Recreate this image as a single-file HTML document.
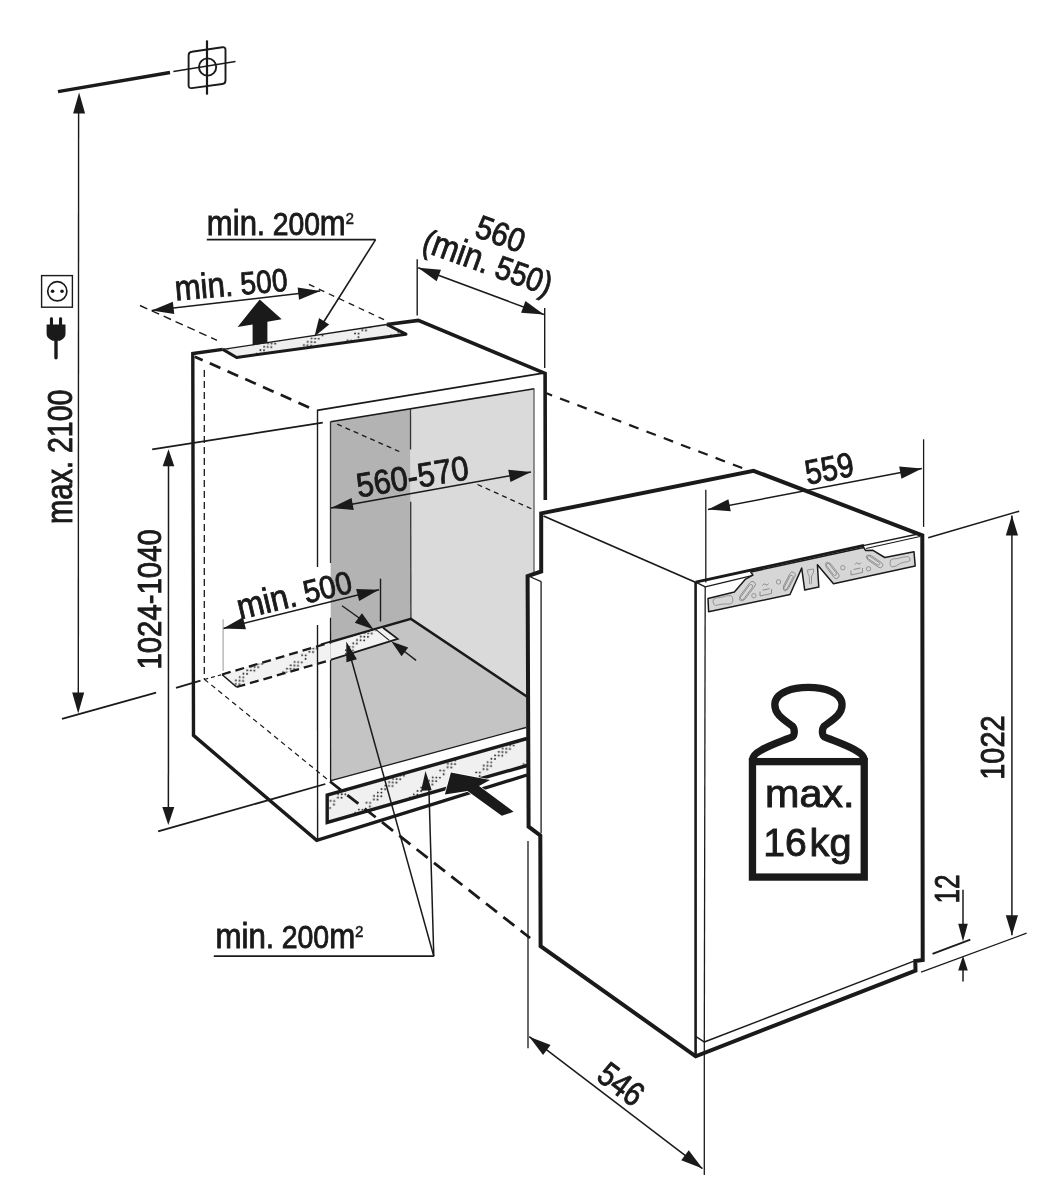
<!DOCTYPE html>
<html><head><meta charset="utf-8"><style>
html,body{margin:0;padding:0;background:#fff;}
body{width:1047px;height:1200px;overflow:hidden;}
svg{display:block;}
text{font-family:"Liberation Sans",sans-serif;}
svg{will-change:transform;}
</style></head><body>
<svg width="1047" height="1200" viewBox="0 0 1047 1200">
<defs><pattern id="dots" patternUnits="userSpaceOnUse" width="36" height="36" patternTransform="rotate(3)"><g fill="#222"><circle cx="1.2" cy="1.2" r="0.95"/><circle cx="1.2" cy="4.8" r="0.95"/><circle cx="1.2" cy="8.4" r="0.95"/><circle cx="4.8" cy="1.2" r="0.95"/><circle cx="4.8" cy="4.8" r="0.95"/><circle cx="4.8" cy="33.6" r="0.95"/><circle cx="8.4" cy="1.2" r="0.95"/><circle cx="8.4" cy="33.6" r="0.95"/><circle cx="12" cy="26.4" r="0.95"/><circle cx="12" cy="33.6" r="0.95"/><circle cx="15.6" cy="26.4" r="0.95"/><circle cx="15.6" cy="30" r="0.95"/><circle cx="19.2" cy="19.2" r="0.95"/><circle cx="19.2" cy="22.8" r="0.95"/><circle cx="22.8" cy="15.6" r="0.95"/><circle cx="22.8" cy="19.2" r="0.95"/><circle cx="22.8" cy="22.8" r="0.95"/><circle cx="26.4" cy="12" r="0.95"/><circle cx="26.4" cy="15.6" r="0.95"/><circle cx="26.4" cy="19.2" r="0.95"/><circle cx="30" cy="8.4" r="0.95"/><circle cx="30" cy="12" r="0.95"/><circle cx="33.6" cy="4.8" r="0.95"/><circle cx="33.6" cy="8.4" r="0.95"/></g></pattern></defs>
<rect width="1047" height="1200" fill="#fff"/>
<line x1="58" y1="91.6" x2="170" y2="72.5" stroke="#1a1a1a" stroke-width="3.4" stroke-linecap="butt"/>
<line x1="173.4" y1="71.5" x2="235.5" y2="61.5" stroke="#1a1a1a" stroke-width="1.4" stroke-linecap="butt"/>
<path d="M188.6,55.3 L188.6,85.3 Q188.6,88.5 191.8,88.1 L222.3,84 Q225.5,83.6 225.5,80.4 L225.5,50 Q225.5,46.8 222.3,47.2 L191.8,51.7 Q188.6,52.1 188.6,55.3 Z" fill="none" stroke="#1a1a1a" stroke-width="1.9"/>
<line x1="207" y1="40.4" x2="207" y2="94.6" stroke="#1a1a1a" stroke-width="2.2" stroke-linecap="butt"/>
<circle cx="207.6" cy="67" r="8.6" fill="none" stroke="#1a1a1a" stroke-width="1.9"/>
<line x1="78.6" y1="108" x2="78.3" y2="700" stroke="#1a1a1a" stroke-width="1.4" stroke-linecap="butt"/>
<polygon points="79.1,92.6 85.1,113.6 73.1,113.6" fill="#1a1a1a"/>
<polygon points="78.2,713.6 72.2,692.6 84.2,692.6" fill="#1a1a1a"/>
<line x1="62" y1="718.8" x2="156.1" y2="692.6" stroke="#1a1a1a" stroke-width="1.8" stroke-linecap="butt"/>
<line x1="176" y1="687.8" x2="200.5" y2="680.7" stroke="#1a1a1a" stroke-width="1.8" stroke-linecap="butt"/>
<text x="71.8" y="524" font-size="35.5" text-anchor="start" textLength="134.5" lengthAdjust="spacingAndGlyphs" transform="rotate(-90 71.8 524)" fill="#1a1a1a" stroke="#1a1a1a" stroke-width="0.9"><tspan font-size="36.21">max</tspan>. 2100</text>
<rect x="41.6" y="275.6" width="30.8" height="31.6" fill="none" stroke="#1a1a1a" stroke-width="1.4"/>
<circle cx="57.3" cy="291.3" r="9.6" fill="none" stroke="#1a1a1a" stroke-width="1.7"/>
<circle cx="52.6" cy="291.3" r="1.8" fill="#1a1a1a"/><circle cx="62" cy="291.3" r="1.8" fill="#1a1a1a"/>
<rect x="49.9" y="317.3" width="3.1" height="9" rx="1.4" fill="#1a1a1a"/><rect x="59" y="317.3" width="3.1" height="9" rx="1.4" fill="#1a1a1a"/>
<path d="M46.6,324.5 L65.5,324.5 L65.5,334 Q65.5,338 60,340.8 L52.5,340.8 Q46.6,338 46.6,334 Z" fill="#1a1a1a"/>
<line x1="56" y1="338" x2="56" y2="357.8" stroke="#1a1a1a" stroke-width="3.4" stroke-linecap="round"/>
<line x1="168.5" y1="462" x2="168.4" y2="810" stroke="#1a1a1a" stroke-width="1.5" stroke-linecap="butt"/>
<polygon points="168.5,449.2 174.3,466.2 162.7,466.2" fill="#1a1a1a"/>
<polygon points="168.3,825.1 162.3,807.1 174.3,807.1" fill="#1a1a1a"/>
<line x1="152.2" y1="449.4" x2="322.8" y2="422.6" stroke="#1a1a1a" stroke-width="1.6" stroke-linecap="butt"/>
<line x1="158.1" y1="831.4" x2="325.3" y2="784" stroke="#1a1a1a" stroke-width="1.8" stroke-linecap="butt"/>
<polygon points="330.5,421.7 410.5,408.7 410.9,618.9 330.7,642.4" fill="#b3b3b3"/>
<polygon points="410.5,408.7 534.3,388.7 534.3,702 410.9,618.9" fill="#dadada"/>
<polygon points="330.7,642.4 410.9,618.9 534.3,702 534.3,725.3 331,780.7" fill="#c4c4c4"/>
<line x1="330.5" y1="421.7" x2="534.3" y2="388.7" stroke="#1a1a1a" stroke-width="1.6" stroke-linecap="butt"/>
<line x1="330.5" y1="421.7" x2="330.5" y2="563" stroke="#333" stroke-width="1.3" stroke-linecap="butt"/>
<line x1="330.5" y1="617.8" x2="330.6" y2="781" stroke="#1a1a1a" stroke-width="1.3" stroke-linecap="butt"/>
<line x1="410.5" y1="408.7" x2="410.55" y2="449.5" stroke="#333" stroke-width="1.3" stroke-linecap="butt"/>
<line x1="410.7" y1="501.7" x2="410.9" y2="618.9" stroke="#333" stroke-width="1.3" stroke-linecap="butt"/>
<polyline points="321,644.6 410.9,618.9 534.3,701.6" fill="none" stroke="#1a1a1a" stroke-width="2.4" stroke-linejoin="miter"/>
<line x1="331" y1="780.7" x2="526.1" y2="727.5" stroke="#1a1a1a" stroke-width="1.3" stroke-linecap="butt"/>
<line x1="534" y1="389" x2="534" y2="701" stroke="#444" stroke-width="1.1" stroke-linecap="butt"/>
<line x1="337.2" y1="424.2" x2="399.3" y2="451.5" stroke="#1a1a1a" stroke-width="1.3" stroke-dasharray="5,4" stroke-linecap="butt"/>
<line x1="477.5" y1="484.5" x2="534" y2="510" stroke="#1a1a1a" stroke-width="1.3" stroke-dasharray="5,4" stroke-linecap="butt"/>
<polygon points="330.5,643.7 383,627.8 397.7,638.9 330.5,659.9" fill="#f2f2f2"/>
<polygon points="345,639 378,629.4 390,640 345,654" fill="url(#dots)"/>
<polyline points="383,627.8 397.7,638.9 330.5,659.9" fill="none" stroke="#1a1a1a" stroke-width="1.8" stroke-linejoin="miter"/>
<line x1="375.7" y1="629.4" x2="389.3" y2="640.4" stroke="#1a1a1a" stroke-width="1.1" stroke-linecap="butt"/>
<polygon points="222,674.5 330.7,642.4 330.7,660 236.5,687" fill="#f2f2f2"/>
<polygon points="222,674.5 330.7,642.4 330.7,660 236.5,687" fill="url(#dots)"/>
<line x1="222" y1="674.5" x2="330.7" y2="642.4" stroke="#1a1a1a" stroke-width="2.3" stroke-dasharray="9,5" stroke-linecap="butt"/>
<line x1="236.5" y1="687" x2="330.7" y2="660" stroke="#1a1a1a" stroke-width="2.3" stroke-dasharray="9,5" stroke-linecap="butt"/>
<line x1="222" y1="674.5" x2="236.5" y2="687" stroke="#1a1a1a" stroke-width="1.6" stroke-linecap="butt"/>
<line x1="204.3" y1="679.5" x2="221" y2="674.8" stroke="#1a1a1a" stroke-width="1.2" stroke-dasharray="4,3" stroke-linecap="butt"/>
<line x1="204.3" y1="370" x2="204.3" y2="679.4" stroke="#1a1a1a" stroke-width="1.3" stroke-dasharray="7,4" stroke-linecap="butt"/>
<line x1="204.3" y1="679.2" x2="330" y2="781.5" stroke="#1a1a1a" stroke-width="1.2" stroke-dasharray="5,4" stroke-linecap="butt"/>
<line x1="194.8" y1="356.7" x2="316" y2="410.5" stroke="#1a1a1a" stroke-width="2.7" stroke-dasharray="11.6,7.8" stroke-dashoffset="3"/>
<line x1="546.5" y1="393.3" x2="750" y2="471" stroke="#1a1a1a" stroke-width="2.2" stroke-dasharray="10,8.5" stroke-dashoffset="4"/>
<line x1="317" y1="410.3" x2="544.7" y2="372.9" stroke="#1a1a1a" stroke-width="1.8" stroke-linecap="butt"/>
<line x1="317.5" y1="410" x2="317.5" y2="567" stroke="#1a1a1a" stroke-width="1.4" stroke-linecap="butt"/>
<line x1="317.5" y1="625" x2="317.6" y2="839" stroke="#1a1a1a" stroke-width="1.4" stroke-linecap="butt"/>
<polygon points="222.8,349.4 386.8,324.5 407,334.2 236.6,357.5" fill="#efefef"/>
<polygon points="222.8,349.4 386.8,324.5 407,334.2 236.6,357.5" fill="url(#dots)"/>
<line x1="222.8" y1="349.4" x2="386.8" y2="324.5" stroke="#1a1a1a" stroke-width="1.3" stroke-linecap="butt"/>
<polyline points="222.8,349.4 236.6,357.5 406,334.2 386.8,324.5" fill="none" stroke="#1a1a1a" stroke-width="3.0" stroke-linejoin="round"/>
<polyline points="222.8,349.4 192.8,353.6 193.5,735.4 316.7,840.4 527,775" fill="none" stroke="#1a1a1a" stroke-width="3.4" stroke-linejoin="miter"/>
<polyline points="386.8,324.5 418.3,320.4 545.1,373.4 545.3,500.1" fill="none" stroke="#1a1a1a" stroke-width="3.6" stroke-linejoin="miter"/>
<polygon points="327.2,795 527,738.5 527,765.5 327.2,822.5" fill="#f0f0f0"/>
<polygon points="327.2,795 527,738.5 527,765.5 327.2,822.5" fill="url(#dots)"/>
<polyline points="527,738.5 327.2,795 327.2,822.5 527,765.5" fill="none" stroke="#1a1a1a" stroke-width="3.4" stroke-linejoin="miter"/>
<line x1="330" y1="781.5" x2="530.1" y2="938" stroke="#1a1a1a" stroke-width="2.8" stroke-dasharray="14,8" stroke-linecap="butt"/>
<polygon points="541.2,513.4 753.6,470.8 922.3,535.3 922.7,960.1 915.3,961.1 915.5,970.6 695.7,1056.3 540.6,946.2 540.3,835.5 528.6,826.7 527.6,576.1 541.2,571.5" fill="#fff" stroke="#1a1a1a" stroke-width="4.0" stroke-linejoin="miter"/>
<line x1="530.6" y1="577" x2="541.2" y2="581.6" stroke="#1a1a1a" stroke-width="1.2" stroke-linecap="butt"/>
<line x1="541.1" y1="581.6" x2="541.1" y2="833.3" stroke="#1a1a1a" stroke-width="1.3" stroke-linecap="butt"/>
<line x1="543.5" y1="516" x2="696" y2="582.5" stroke="#1a1a1a" stroke-width="1.8" stroke-linecap="butt"/>
<line x1="695.6" y1="582.1" x2="695.6" y2="1056" stroke="#1a1a1a" stroke-width="2.6" stroke-linecap="butt"/>
<line x1="696" y1="1036.6" x2="704.5" y2="1042.2" stroke="#1a1a1a" stroke-width="1.4" stroke-linecap="butt"/>
<line x1="705.2" y1="586.8" x2="704.3" y2="1042" stroke="#1a1a1a" stroke-width="1.3" stroke-linecap="butt"/>
<line x1="695.7" y1="582.1" x2="705.2" y2="586.8" stroke="#1a1a1a" stroke-width="1.3" stroke-linecap="butt"/>
<line x1="695.7" y1="582.1" x2="864" y2="545.4" stroke="#1a1a1a" stroke-width="2.8" stroke-linecap="butt"/>
<line x1="862" y1="545.8" x2="920.5" y2="533.5" stroke="#1a1a1a" stroke-width="1.3" stroke-linecap="butt"/>
<line x1="705.2" y1="586.8" x2="753" y2="575.3" stroke="#1a1a1a" stroke-width="1.2" stroke-linecap="butt"/>
<line x1="866" y1="548.5" x2="920" y2="536.5" stroke="#1a1a1a" stroke-width="1.2" stroke-linecap="butt"/>
<line x1="704.3" y1="1042" x2="913.9" y2="961.1" stroke="#1a1a1a" stroke-width="1.5" stroke-linecap="butt"/>
<polygon points="708.6,611.7 708,598.4 734.4,592 745.6,579.1 752.9,575.2 750.8,572 863.7,547.5 865.7,550.6 872.6,550.2 884.8,557.5 914,551.8 915.2,566 833.5,583.8 817.4,564.7 818.8,587.1 804.7,590.1 801.7,568.1 790,594.5" fill="#d6d6d6" stroke="#1a1a1a" stroke-width="1.5" stroke-linejoin="round"/>
<rect x="736.64" y="587.75" width="21.92" height="6" rx="3" transform="rotate(-52.97 747.6 590.75)" fill="none" stroke="#7a7a7a" stroke-width="0.7"/>
<rect x="735.44" y="588.95" width="19.52" height="3.6" rx="1.8" transform="rotate(-52.97 747.6 590.75)" fill="none" stroke="#7a7a7a" stroke-width="0.7"/>
<rect x="779.59" y="578.1" width="19.41" height="5.6" rx="2.8" transform="rotate(-62.38 789.3 580.9)" fill="none" stroke="#7a7a7a" stroke-width="0.7"/>
<rect x="778.39" y="579.3" width="17.01" height="3.2" rx="1.6" transform="rotate(-62.38 789.3 580.9)" fill="none" stroke="#7a7a7a" stroke-width="0.7"/>
<rect x="823.44" y="568" width="18.12" height="5.6" rx="2.8" transform="rotate(52.62 832.5 570.8)" fill="none" stroke="#7a7a7a" stroke-width="0.7"/>
<rect x="822.24" y="569.2" width="15.72" height="3.2" rx="1.6" transform="rotate(52.62 832.5 570.8)" fill="none" stroke="#7a7a7a" stroke-width="0.7"/>
<rect x="866.07" y="558.8" width="17.86" height="5.4" rx="2.7" transform="rotate(34.05 875 561.5)" fill="none" stroke="#7a7a7a" stroke-width="0.7"/>
<rect x="864.87" y="560" width="15.46" height="3" rx="1.5" transform="rotate(34.05 875 561.5)" fill="none" stroke="#7a7a7a" stroke-width="0.7"/>
<circle cx="753.9" cy="595.7" r="2.2" fill="none" stroke="#7a7a7a" stroke-width="0.7"/>
<circle cx="778.5" cy="581.9" r="2.2" fill="none" stroke="#7a7a7a" stroke-width="0.7"/>
<circle cx="842.8" cy="567.7" r="2.2" fill="none" stroke="#7a7a7a" stroke-width="0.7"/>
<circle cx="868.5" cy="568.8" r="2.2" fill="none" stroke="#7a7a7a" stroke-width="0.7"/>
<path d="M713,601.5 Q712.5,598.5 716,598 L722,597.2 Q726,595.5 731,595.5 Q733,597 733,601 Q732,604 729,604.2 Q724,603.5 720,604.5 L715.5,605.5 Q713.2,605 713,601.5 Z" fill="none" stroke="#7a7a7a" stroke-width="0.7"/>
<path d="M890,563 Q889.5,559.5 893,559 L898,558.5 Q902,557 908,556.5 Q910.5,557.5 910,560.5 Q908.5,562 904,562.2 Q899,563.5 896,566 L892,567 Q890,566.5 890,563 Z" fill="none" stroke="#7a7a7a" stroke-width="0.7"/>
<path d="M807.5,570 L813.5,569 Q814.2,573 811.5,576 L811.5,583 Q810.5,585 809.5,583.5 L809.3,576.5 Q807.5,574 807.5,570 Z" fill="none" stroke="#7a7a7a" stroke-width="0.7"/>
<path d="M760,596 L771.5,593.5 M760,596 L760,591.5 M771.5,593.5 L771.5,589 M762.5,590.2 L769.5,588.7" fill="none" stroke="#7a7a7a" stroke-width="0.8"/>
<path d="M851,575 L862.5,572.5 M851,575 L851,570.5 M862.5,572.5 L862.5,568 M853.5,569.5 L860.5,568" fill="none" stroke="#7a7a7a" stroke-width="0.8"/>
<path d="M762.5,585.5 q1.5,-3 3,-1 q1.5,2 3,-1 M855,564.5 q1.5,-3 3,-1 q1.5,2 3,-1" fill="none" stroke="#7a7a7a" stroke-width="0.8"/>
<line x1="206.8" y1="239.6" x2="375.6" y2="239.6" stroke="#1a1a1a" stroke-width="1.8" stroke-linecap="butt"/>
<line x1="375.6" y1="239.6" x2="318" y2="331" stroke="#1a1a1a" stroke-width="1.6" stroke-linecap="butt"/>
<polygon points="314.5,336.4 319.03,317.98 329.18,324.38" fill="#1a1a1a"/>
<text x="206.8" y="234.8" font-size="32" text-anchor="start" textLength="147" lengthAdjust="spacingAndGlyphs" fill="#1a1a1a" stroke="#1a1a1a" stroke-width="0.9"><tspan font-size="35.2">min</tspan>. 200<tspan font-size="35.2">m</tspan><tspan font-size="27.2" dy="-3" stroke-width="0.3">²</tspan></text>
<line x1="151.7" y1="310.4" x2="320.2" y2="291.1" stroke="#1a1a1a" stroke-width="1.5" stroke-linecap="butt"/>
<polygon points="320.2,291.1 299.05,299.76 297.64,287.44" fill="#1a1a1a"/>
<polygon points="151.7,310.4 172.85,301.74 174.26,314.06" fill="#1a1a1a"/>
<line x1="140" y1="305.5" x2="217" y2="340.3" stroke="#1a1a1a" stroke-width="1.4" stroke-dasharray="8,5" stroke-linecap="butt"/>
<line x1="308.9" y1="284.4" x2="388.3" y2="321.7" stroke="#1a1a1a" stroke-width="1.3" stroke-dasharray="6,5" stroke-linecap="butt"/>
<text x="175.8" y="300.6" font-size="32" text-anchor="start" textLength="113" lengthAdjust="spacingAndGlyphs" transform="rotate(-5 175.8 300.6)" fill="#1a1a1a" stroke="#1a1a1a" stroke-width="0.9"><tspan font-size="35.2">min</tspan>. 500</text>
<polygon points="259.7,299.5 281.7,319.2 267.4,321.8 267.4,343 252.6,345.2 252.6,324.4 237.6,327" fill="#1a1a1a"/>
<line x1="417.2" y1="259.2" x2="417.2" y2="315.6" stroke="#1a1a1a" stroke-width="1.4" stroke-linecap="butt"/>
<line x1="544.7" y1="307.9" x2="544.7" y2="368.1" stroke="#1a1a1a" stroke-width="1.4" stroke-linecap="butt"/>
<line x1="418.2" y1="267.8" x2="543.9" y2="314.6" stroke="#1a1a1a" stroke-width="1.6" stroke-linecap="butt"/>
<polygon points="543.9,314.6 521.12,312.73 525.45,301.11" fill="#1a1a1a"/>
<polygon points="418.2,267.8 440.98,269.67 436.65,281.29" fill="#1a1a1a"/>
<text x="473.2" y="236" font-size="33" text-anchor="start" textLength="50" lengthAdjust="spacingAndGlyphs" transform="rotate(20 473.2 236)" fill="#1a1a1a" stroke="#1a1a1a" stroke-width="0.9">560</text>
<text x="420.5" y="250.5" font-size="33" text-anchor="start" textLength="135" lengthAdjust="spacingAndGlyphs" transform="rotate(19.7 420.5 250.5)" fill="#1a1a1a" stroke="#1a1a1a" stroke-width="0.9">(<tspan font-size="36.3">min</tspan>. 550)</text>
<line x1="331" y1="507.9" x2="531" y2="471.9" stroke="#1a1a1a" stroke-width="1.5" stroke-linecap="butt"/>
<polygon points="531,471.9 510.45,481.9 508.25,469.7" fill="#1a1a1a"/>
<polygon points="331,507.9 351.55,497.9 353.75,510.1" fill="#1a1a1a"/>
<text x="358.5" y="497.5" font-size="34" text-anchor="start" textLength="113.3" lengthAdjust="spacingAndGlyphs" transform="rotate(-9.4 358.5 497.5)" fill="#1a1a1a" stroke="#1a1a1a" stroke-width="0.9">560-570</text>
<text x="161.5" y="669.6" font-size="34" text-anchor="start" textLength="140.5" lengthAdjust="spacingAndGlyphs" transform="rotate(-90 161.5 669.6)" fill="#1a1a1a" stroke="#1a1a1a" stroke-width="0.9">1024-1040</text>
<line x1="223.1" y1="628.5" x2="379" y2="589.7" stroke="#1a1a1a" stroke-width="1.5" stroke-linecap="butt"/>
<polygon points="379,589.7 359.15,601.03 356.15,589" fill="#1a1a1a"/>
<polygon points="223.1,628.5 242.95,617.17 245.95,629.2" fill="#1a1a1a"/>
<line x1="223.1" y1="619.3" x2="223.1" y2="671" stroke="#999" stroke-width="1.0" stroke-linecap="butt"/>
<line x1="380.5" y1="578.7" x2="380.5" y2="621.5" stroke="#1a1a1a" stroke-width="1.4" stroke-linecap="butt"/>
<text x="240" y="619.5" font-size="32" text-anchor="start" textLength="117" lengthAdjust="spacingAndGlyphs" transform="rotate(-13.5 240 619.5)" fill="#1a1a1a" stroke="#1a1a1a" stroke-width="0.9"><tspan font-size="35.2">min</tspan>. 500</text>
<line x1="342" y1="605.8" x2="362" y2="620" stroke="#1a1a1a" stroke-width="1.4" stroke-linecap="butt"/>
<polygon points="373.6,629.4 354.79,622.84 361.97,613.22" fill="#1a1a1a"/>
<line x1="416.1" y1="660.4" x2="400" y2="648" stroke="#1a1a1a" stroke-width="1.4" stroke-linecap="butt"/>
<polygon points="391.4,641.5 408.24,647.46 401.56,656.2" fill="#1a1a1a"/>
<line x1="433.8" y1="956.2" x2="349" y2="651" stroke="#1a1a1a" stroke-width="1.5" stroke-linecap="butt"/>
<polygon points="346.3,641.5 356.96,659.3 346.36,662.24" fill="#1a1a1a"/>
<line x1="433.8" y1="956.2" x2="428.9" y2="788" stroke="#1a1a1a" stroke-width="1.5" stroke-linecap="butt"/>
<polygon points="425.5,771 431.67,790.24 421.08,790.72" fill="#1a1a1a"/>
<line x1="213.8" y1="956.2" x2="433.8" y2="956.2" stroke="#1a1a1a" stroke-width="1.8" stroke-linecap="butt"/>
<text x="215.5" y="948.3" font-size="32" text-anchor="start" textLength="147.8" lengthAdjust="spacingAndGlyphs" fill="#1a1a1a" stroke="#1a1a1a" stroke-width="0.9"><tspan font-size="35.2">min</tspan>. 200<tspan font-size="35.2">m</tspan><tspan font-size="27.2" dy="-3" stroke-width="0.3">²</tspan></text>
<polygon points="450.9,772.5 490,780 479,786 513.6,811.8 501.8,815.7 467.5,791 444.9,794.6" fill="#1a1a1a" stroke="#fff" stroke-width="1.5" paint-order="stroke"/>
<line x1="705.8" y1="489.7" x2="705.8" y2="582.5" stroke="#1a1a1a" stroke-width="1.3" stroke-linecap="butt"/>
<line x1="923.6" y1="439.3" x2="923.6" y2="526.9" stroke="#1a1a1a" stroke-width="1.3" stroke-linecap="butt"/>
<line x1="708" y1="509.4" x2="921.9" y2="468.4" stroke="#1a1a1a" stroke-width="1.5" stroke-linecap="butt"/>
<polygon points="921.9,468.4 901.46,478.63 899.13,466.45" fill="#1a1a1a"/>
<polygon points="708,509.4 728.44,499.17 730.77,511.35" fill="#1a1a1a"/>
<text x="807.5" y="484.8" font-size="34.5" text-anchor="start" textLength="49" lengthAdjust="spacingAndGlyphs" transform="rotate(-11 807.5 484.8)" fill="#1a1a1a" stroke="#1a1a1a" stroke-width="0.9">559</text>
<line x1="928.2" y1="537.8" x2="1019.2" y2="511.2" stroke="#1a1a1a" stroke-width="1.5" stroke-linecap="butt"/>
<line x1="921.1" y1="972.1" x2="1026.6" y2="933.2" stroke="#1a1a1a" stroke-width="1.3" stroke-linecap="butt"/>
<line x1="1011.9" y1="515.6" x2="1011.9" y2="935.3" stroke="#1a1a1a" stroke-width="1.5" stroke-linecap="butt"/>
<polygon points="1011.9,935.3 1005.8,915.3 1018,915.3" fill="#1a1a1a"/>
<polygon points="1011.9,515.6 1018,535.6 1005.8,535.6" fill="#1a1a1a"/>
<text x="1004.3" y="779.8" font-size="34" text-anchor="start" textLength="64.5" lengthAdjust="spacingAndGlyphs" transform="rotate(-90 1004.3 779.8)" fill="#1a1a1a" stroke="#1a1a1a" stroke-width="0.9">1022</text>
<line x1="932.5" y1="953.9" x2="970.3" y2="939.6" stroke="#1a1a1a" stroke-width="1.8" stroke-linecap="butt"/>
<line x1="963" y1="889.8" x2="963" y2="930" stroke="#1a1a1a" stroke-width="1.5" stroke-linecap="butt"/>
<polygon points="963,941.5 958.2,923.8 967.8,923.8" fill="#1a1a1a"/>
<line x1="963" y1="965" x2="963" y2="981.6" stroke="#1a1a1a" stroke-width="1.5" stroke-linecap="butt"/>
<polygon points="963,955.8 967.8,970.6 958.2,970.6" fill="#1a1a1a"/>
<text x="958.5" y="903.5" font-size="35" text-anchor="start" textLength="29" lengthAdjust="spacingAndGlyphs" transform="rotate(-90 958.5 903.5)" fill="#1a1a1a" stroke="#1a1a1a" stroke-width="0.9">12</text>
<line x1="528" y1="841" x2="528" y2="1048.3" stroke="#1a1a1a" stroke-width="1.3" stroke-linecap="butt"/>
<line x1="704.3" y1="1042" x2="704.3" y2="1175" stroke="#1a1a1a" stroke-width="1.3" stroke-linecap="butt"/>
<line x1="529.3" y1="1036.7" x2="702.5" y2="1168.6" stroke="#1a1a1a" stroke-width="1.5" stroke-linecap="butt"/>
<polygon points="702.5,1168.6 681.24,1160.2 688.75,1150.34" fill="#1a1a1a"/>
<polygon points="529.3,1036.7 550.56,1045.1 543.05,1054.96" fill="#1a1a1a"/>
<text x="595" y="1079" font-size="34" text-anchor="start" textLength="48" lengthAdjust="spacingAndGlyphs" transform="rotate(37 595 1079)" fill="#1a1a1a" stroke="#1a1a1a" stroke-width="0.9">546</text>
<g transform="translate(740,670) scale(0.18325)"><path d="M68,490 C68,440 200,400 285,365 C300,355 300,320 285,305 C230,265 190,240 190,190 C190,120 290,95 373,95 C456,95 557,120 557,190 C557,240 516,265 461,305 C446,320 446,355 461,365 C546,400 678,440 678,490" fill="none" stroke="#1a1a1a" stroke-width="40" stroke-linejoin="round"/><rect x="68" y="500" width="610" height="630" fill="none" stroke="#1a1a1a" stroke-width="40"/></g>
<text x="765" y="807" font-size="38" text-anchor="start" textLength="89.5" lengthAdjust="spacingAndGlyphs" fill="#1a1a1a" stroke="#1a1a1a" stroke-width="0.9">max.</text>
<text x="763.2" y="856" font-size="38" text-anchor="start" textLength="43.5" lengthAdjust="spacingAndGlyphs" fill="#1a1a1a" stroke="#1a1a1a" stroke-width="0.9">16</text>
<text x="809.6" y="856" font-size="38" text-anchor="start" textLength="42" lengthAdjust="spacingAndGlyphs" fill="#1a1a1a" stroke="#1a1a1a" stroke-width="0.9">kg</text>
</svg>
</body></html>
